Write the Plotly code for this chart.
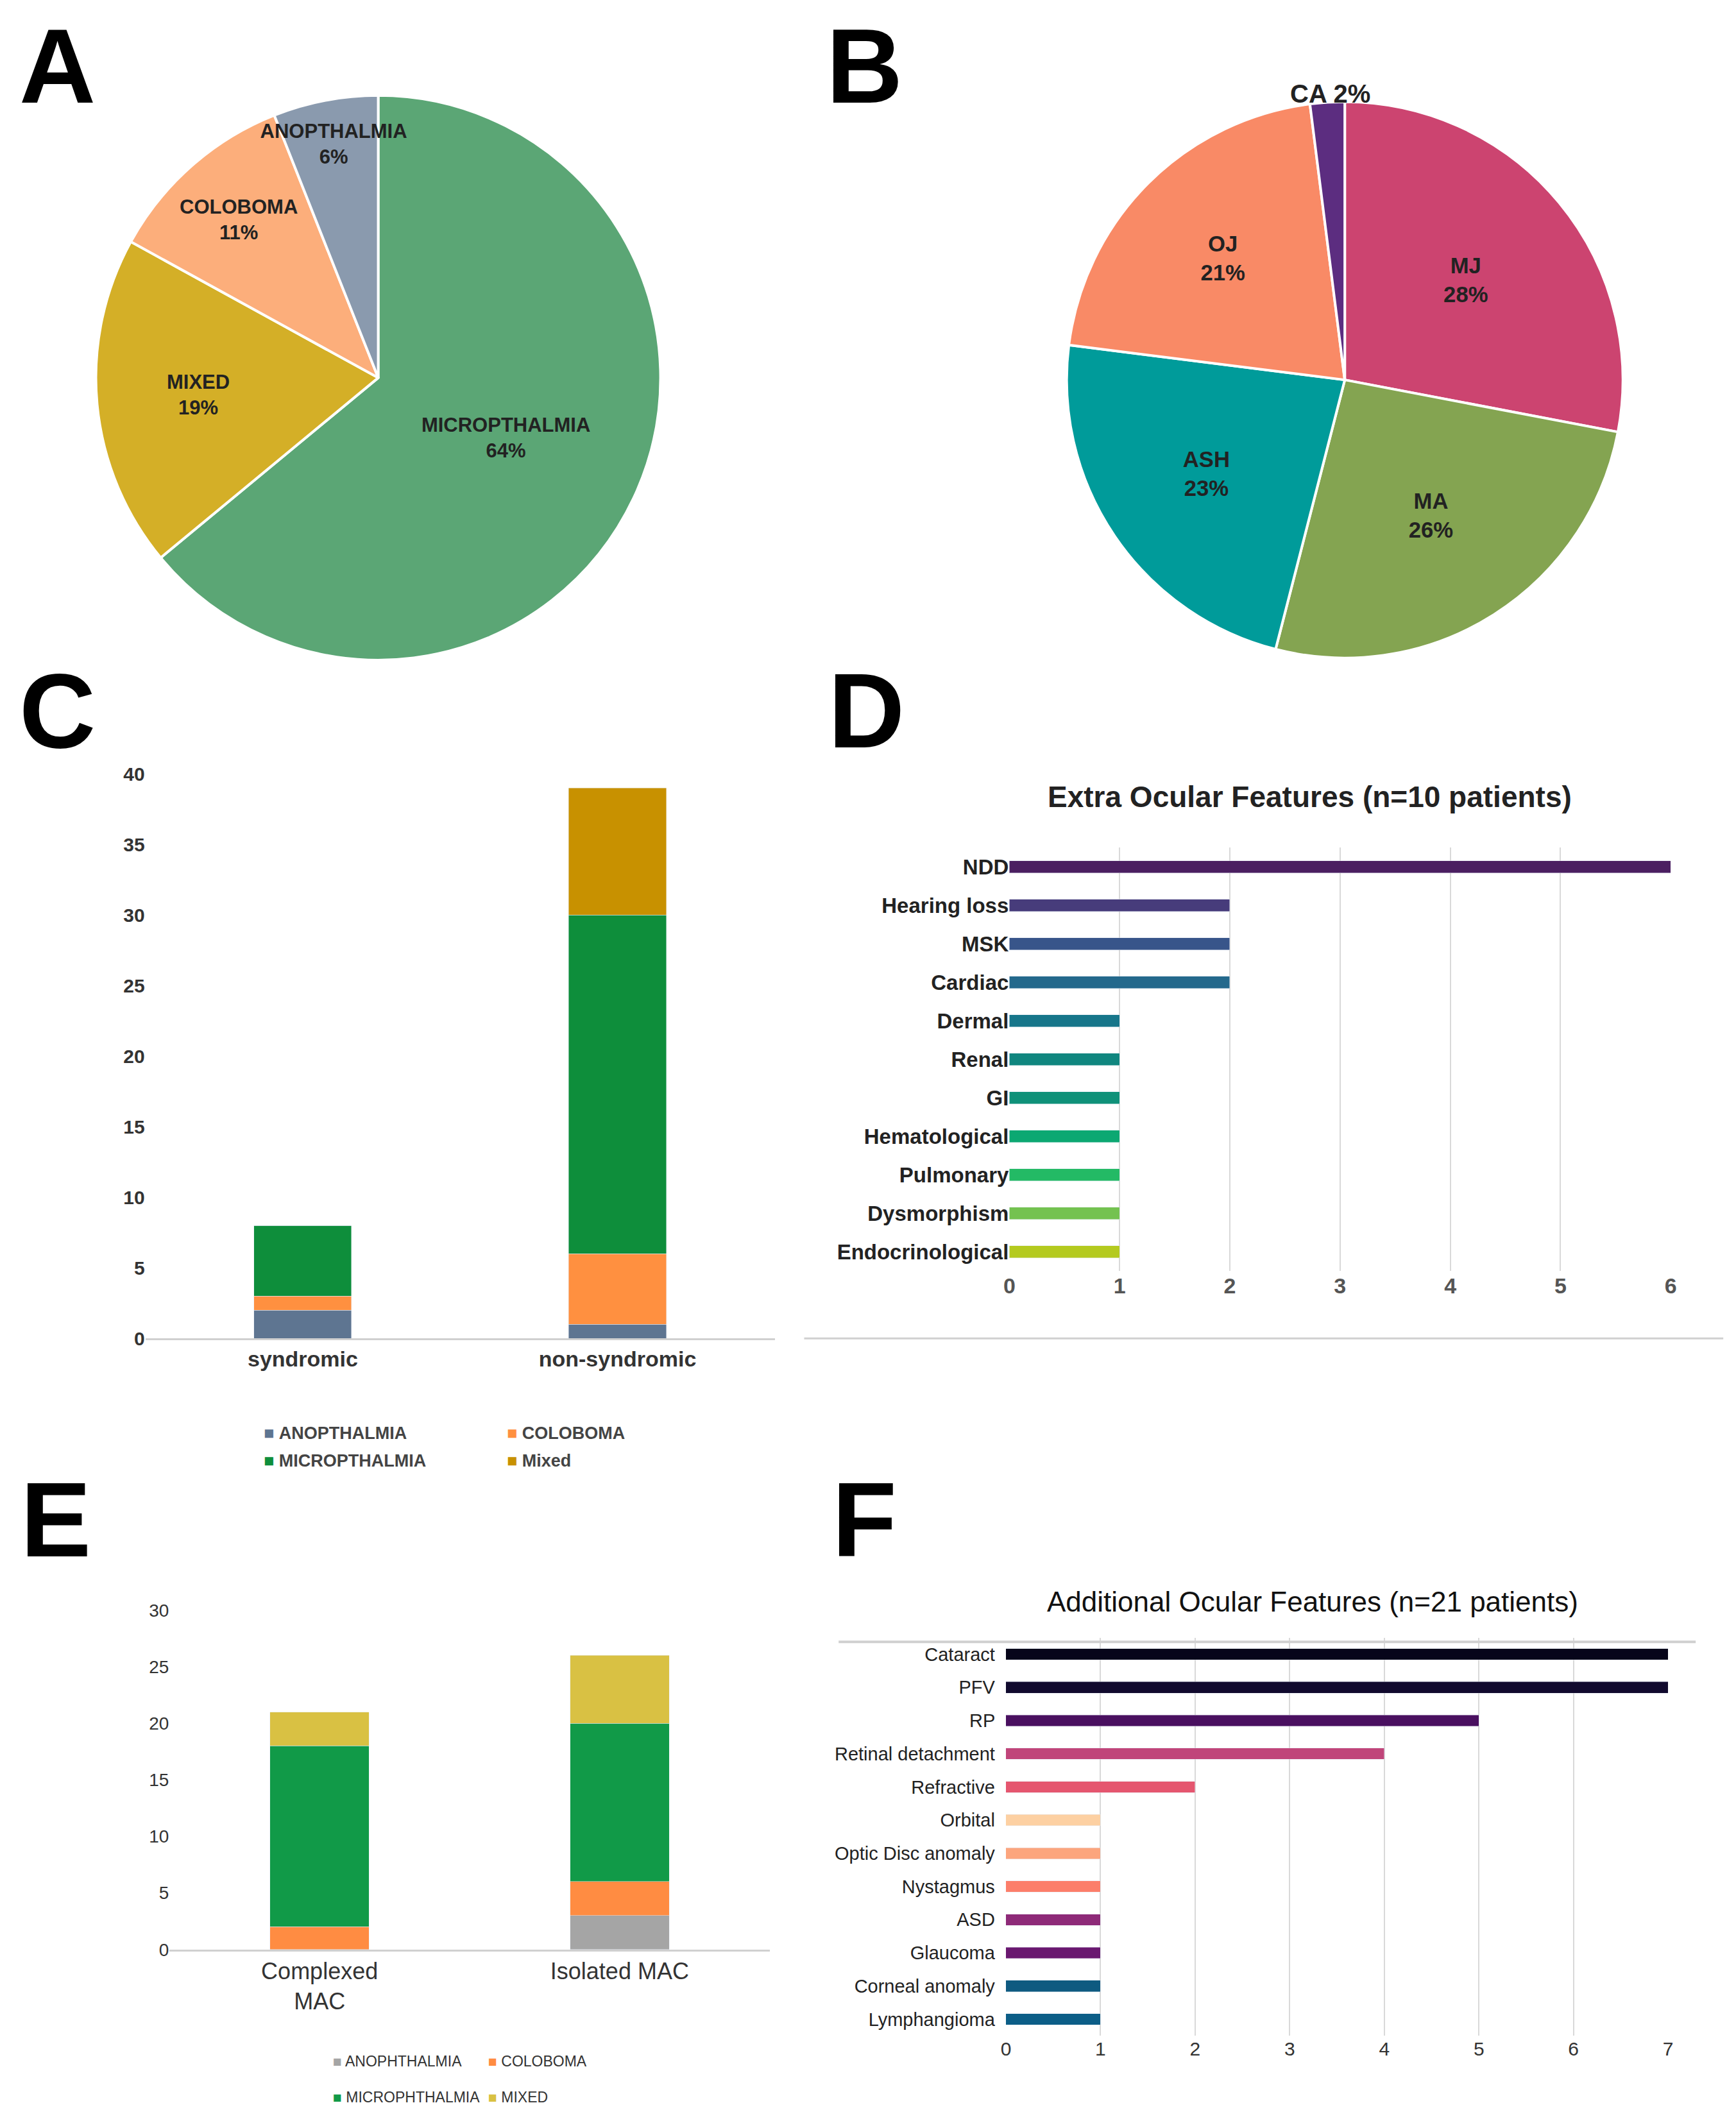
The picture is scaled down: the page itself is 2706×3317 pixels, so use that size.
import plotly.graph_objects as go

# Panel A
a_labels = ["MICROPTHALMIA", "MIXED", "COLOBOMA", "ANOPTHALMIA"]
a_values = [64, 19, 11, 6]
a_colors = ["#5BA675", "#D4AF27", "#FCAE7B", "#8A9AAE"]
# Panel B
b_labels = ["MJ", "MA", "ASH", "OJ", "CA"]
b_values = [28, 26, 23, 21, 2]
b_colors = ["#CC4470", "#84A451", "#009B9A", "#F98A66", "#5C2D80"]
# Panel C
c_cats = ["syndromic", "non-syndromic"]
c_series = ["ANOPTHALMIA", "COLOBOMA", "MICROPTHALMIA", "Mixed"]
c_vals = {"ANOPTHALMIA": [2, 1], "COLOBOMA": [1, 5], "MICROPTHALMIA": [5, 24], "Mixed": [0, 9]}
c_colors = ["#5E7591", "#FF9040", "#0E8E3B", "#C89100"]
c_ticks = [0, 5, 10, 15, 20, 25, 30, 35, 40]
# Panel D
d_cats = ["NDD", "Hearing loss", "MSK", "Cardiac", "Dermal", "Renal", "GI", "Hematological",
          "Pulmonary", "Dysmorphism", "Endocrinological"]
d_vals = [6, 2, 2, 2, 1, 1, 1, 1, 1, 1, 1]
d_colors = ["#4B1F61", "#473C7B", "#38558A", "#24698C", "#17768A", "#10867F", "#0F9179",
            "#0CA872", "#23BA65", "#74C250", "#B4CA1F"]
# Panel E
e_cats = ["Complexed<br>MAC", "Isolated MAC"]
e_series = ["ANOPHTHALMIA", "COLOBOMA", "MICROPHTHALMIA", "MIXED"]
e_vals = {"ANOPHTHALMIA": [0, 3], "COLOBOMA": [2, 3], "MICROPHTHALMIA": [16, 14], "MIXED": [3, 6]}
e_colors = ["#A5A5A5", "#FF8C42", "#119A48", "#D9C143"]
e_ticks = [0, 5, 10, 15, 20, 25, 30]
# Panel F
f_cats = ["Cataract", "PFV", "RP", "Retinal detachment", "Refractive", "Orbital", "Optic Disc anomaly",
          "Nystagmus", "ASD", "Glaucoma", "Corneal anomaly", "Lymphangioma"]
f_vals = [7, 7, 5, 4, 2, 1, 1, 1, 1, 1, 1, 1]
f_colors = ["#07051A", "#110A2E", "#4A1060", "#C0457A", "#E5566F", "#FDD0A2", "#FCA57D",
            "#FC7E6A", "#8E2A78", "#6A1870", "#0E5A80", "#0C5E87"]

F = "Liberation Sans"
FN = "Liberation Sans Narrow, Liberation Sans"
fig = go.Figure()

fig.add_trace(go.Pie(labels=a_labels, values=a_values, sort=False, direction="clockwise", rotation=0,
                     marker=dict(colors=a_colors, line=dict(color="white", width=4)),
                     text=[f"<b>{l}<br>{v}%</b>" for l, v in zip(a_labels, a_values)], textinfo="text",
                     textposition="inside", insidetextorientation="horizontal",
                     textfont=dict(family=F, size=31, color="#222"),
                     domain=dict(x=[0.049, 0.377], y=[0.694, 0.962]), showlegend=False))
fig.add_trace(go.Pie(labels=b_labels, values=b_values, sort=False, direction="clockwise", rotation=0,
                     marker=dict(colors=b_colors, line=dict(color="white", width=4)),
                     text=[f"<b>{l}<br>{v}%</b>" for l, v in zip(b_labels[:4], b_values[:4])] + [""],
                     textinfo="text", textposition="inside", insidetextorientation="horizontal",
                     textfont=dict(family=F, size=40, color="#222"),
                     domain=dict(x=[0.612, 0.935], y=[0.695, 0.959]), showlegend=False))
fig.add_annotation(text="<b>CA 2%</b>", x=0.765, y=0.963, xref="paper", yref="paper",
                   xanchor="center", yanchor="middle",
                   showarrow=False, font=dict(family=F, size=40, color="#222"))

for s, col in zip(c_series, c_colors):
    fig.add_trace(go.Bar(x=c_cats, y=c_vals[s], name=s, marker_color=col, width=0.31,
                         xaxis="x", yaxis="y", showlegend=False))
for s, col in zip(e_series, e_colors):
    fig.add_trace(go.Bar(x=e_cats, y=e_vals[s], name=s, marker_color=col, width=0.33,
                         xaxis="x3", yaxis="y3", showlegend=False))
fig.add_trace(go.Bar(y=d_cats, x=d_vals, orientation="h", marker_color=d_colors, width=0.32,
                     xaxis="x2", yaxis="y2", showlegend=False))
fig.add_trace(go.Bar(y=f_cats, x=f_vals, orientation="h", marker_color=f_colors, width=0.34,
                     xaxis="x4", yaxis="y4", showlegend=False))

fig.update_layout(
    width=2706, height=3317, paper_bgcolor="white", plot_bgcolor="white",
    margin=dict(l=0, r=0, t=0, b=0), barmode="stack",
    uniformtext=dict(minsize=28, mode="show"),
    xaxis=dict(domain=[0.078, 0.443], anchor="y", showline=True, linecolor="#D0D0D0", linewidth=3,
               tickfont=dict(family=F, size=34, color="#333"), ticks="",
               ticktext=[f"<b>{c}</b>" for c in c_cats], tickvals=c_cats),
    yaxis=dict(domain=[0.372, 0.640], anchor="x", range=[0, 40], tickvals=c_ticks,
               ticktext=[f"<b>{t}</b>" for t in c_ticks], showgrid=False, ticksuffix="   ",
               zeroline=False, tickfont=dict(family=F, size=30, color="#333")),
    xaxis3=dict(domain=[0.092, 0.44], anchor="y3", showline=True, linecolor="#D0D0D0", linewidth=3,
                tickfont=dict(family=FN, size=36, color="#333"), ticks=""),
    yaxis3=dict(domain=[0.082, 0.243], anchor="x3", range=[0, 30], tickvals=e_ticks, showgrid=False,
                zeroline=False, tickfont=dict(family=FN, size=28, color="#333"), ticksuffix="     "),
    xaxis2=dict(domain=[0.579, 0.9625], anchor="y2", range=[0, 6], tickvals=[0, 1, 2, 3, 4, 5, 6],
                ticktext=[f"<b>{t}</b>" for t in range(7)], showgrid=True,
                gridcolor="#D9D9D9", gridwidth=2, zeroline=False,
                tickfont=dict(family=F, size=34, color="#555")),
    yaxis2=dict(domain=[0.404, 0.605], anchor="x2", autorange="reversed", categoryorder="array",
                categoryarray=d_cats, tickvals=d_cats, ticktext=[f"<b>{c}</b>" for c in d_cats],
                tickfont=dict(family=FN, size=33, color="#222"), ticksuffix="  "),
    xaxis4=dict(domain=[0.577, 0.961], anchor="y4", range=[0, 7], dtick=1, showgrid=True,
                gridcolor="#D9D9D9", gridwidth=2, zeroline=False,
                tickfont=dict(family=FN, size=30, color="#333")),
    yaxis4=dict(domain=[0.041, 0.230], anchor="x4", autorange="reversed", categoryorder="array",
                categoryarray=f_cats, tickfont=dict(family=FN, size=29, color="#222"), ticksuffix="  "),
)

# titles
fig.add_annotation(text="<b>Extra Ocular Features (n=10 patients)</b>", x=0.753, y=0.629,
                   xref="paper", yref="paper", xanchor="center", yanchor="middle",
                   showarrow=False, font=dict(family=F, size=46, color="#222"))
fig.add_annotation(text="Additional Ocular Features (n=21 patients)", x=0.755, y=0.247,
                   xref="paper", yref="paper", xanchor="center", yanchor="middle",
                   showarrow=False, font=dict(family=FN, size=44, color="#111"))
# separator lines
fig.add_shape(type="line", xref="paper", yref="paper", x0=0.46, x1=0.993, y0=0.372, y1=0.372,
              line=dict(color="#D0D0D0", width=3))
fig.add_shape(type="line", xref="paper", yref="paper", x0=0.48, x1=0.977, y0=0.228, y1=0.228,
              line=dict(color="#D0D0D0", width=4))

# panel letters
for t, x, y in [("A", 0.027, 0.976), ("B", 0.495, 0.976), ("C", 0.027, 0.670),
                ("D", 0.496, 0.670), ("E", 0.026, 0.286), ("F", 0.495, 0.286)]:
    fig.add_annotation(text=f"<b>{t}</b>", x=x, y=y, xref="paper", yref="paper", showarrow=False,
                       xanchor="center", yanchor="middle",
                       font=dict(family=F, size=165, color="black"))

# legends (C)
c_pos = [(0.146, 0.327), (0.287, 0.327), (0.146, 0.314), (0.287, 0.314)]
for s, col, (x, y) in zip(c_series, c_colors, c_pos):
    fig.add_annotation(text=f"<span style='color:{col}'>■</span> <b>{s}</b>", x=x, y=y, xref="paper",
                       yref="paper", xanchor="left", yanchor="middle", showarrow=False,
                       font=dict(family=F, size=27, color="#444"))
e_pos = [(0.186, 0.029), (0.276, 0.029), (0.186, 0.012), (0.276, 0.012)]
for s, col, (x, y) in zip(e_series, e_colors, e_pos):
    fig.add_annotation(text=f"<span style='color:{col}'>■</span> {s}", x=x, y=y, xref="paper",
                       yref="paper", xanchor="left", yanchor="middle", showarrow=False,
                       font=dict(family=FN, size=23, color="#333"))

fig.write_html("out.html")
